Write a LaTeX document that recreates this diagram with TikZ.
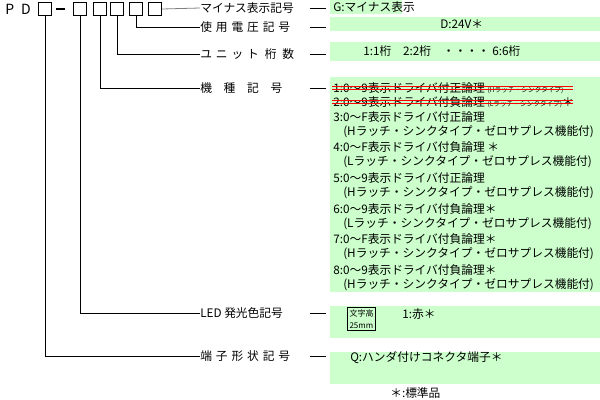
\documentclass[tikz,border=0pt]{standalone}
\usepackage{fontspec}
\setmainfont{Noto Sans CJK JP}
\begin{document}
\begin{tikzpicture}[x=0.75pt,y=-0.75pt,
  lbl/.style={anchor=west,inner sep=0pt,font=\fontsize{8.8}{10}\selectfont},
  sq/.style={draw,line width=0.8pt,minimum width=10pt,minimum height=10pt,inner sep=0pt},
  ln/.style={line width=0.6pt}]
\useasboundingbox (0,0) rectangle (600,400);
\definecolor{pg}{RGB}{204,255,204}
\fill[pg] (330,0) rectangle (402,14);
\fill[pg] (330,17) rectangle (600,31);
\fill[pg] (330,42) rectangle (600,61);
\fill[pg] (330,77) rectangle (600,292);
\fill[pg] (330,306) rectangle (600,338);
\fill[pg] (330,352) rectangle (600,384);
% part number
\node[lbl,font=\fontsize{10.5}{12}\selectfont] (pd) at (5,9) {P\,\,\,D};
\node[sq] (b0) at (45,9) {};
\draw[line width=1.6pt] (56,9) -- (65,9);
\node[sq] (b1) at (80,9) {};
\node[sq] (b2) at (100,9) {};
\node[sq] (b3) at (117,9) {};
\node[sq] (b4) at (136,9) {};
\node[sq] (b5) at (155,9) {};
% labels
\node[lbl] (l1) at (200,8) {マイナス表示記号};
\node[lbl] (l2) at (200,27) {使\,\,用\,\,電\,\,圧\,\,記\,\,号};
\node[lbl] (l3) at (200,54) {ユ\,\,ニ\,\,ッ\,\,ト\,\,\,桁\,\,\,数};
\node[lbl] (l4) at (200,88) {機\quad 種\quad 記\quad 号};
\node[lbl] (l5) at (200,313) {LED 発光色記号};
\node[lbl] (l6) at (200,356) {端\,\,子\,\,形\,\,状\,\,記\,\,号};
\draw[ln,gray] (b5.east) -- (l1.west);
\draw[ln] (b4.south) |- (l2.west);
\draw[ln] (b3.south) |- (l3.west);
\draw[ln] (b2.south) |- (l4.west);
\draw[ln] (b1.south) |- (l5.west);
\draw[ln] (b0.south) |- (l6.west);
\foreach \y in {8,27,54,88,313,356}{\draw[ln] (310,\y) -- (326,\y);}
% values
\node[lbl] (v1) at (333,7) {G:マイナス表示};
\node[lbl] (v2) at (440,24) {D:24V＊};
\node[lbl] (v3) at (363,51) {1:1桁\quad 2:2桁\quad ・・・・\ 6:6桁};
\node[lbl] (m1) at (333,88) {1:0〜9表示ドライバ付正論理 {\tiny (Hラッチ・シンクタイプ)}};
\node[lbl] (m2) at (333,102) {2:0〜9表示ドライバ付負論理 {\tiny (Lラッチ・シンクタイプ)}＊};
\foreach \y in {86.5,89.5,100.5,103.5}{\draw[red,line width=0.7pt] (332,\y) -- (573,\y);}
\node[lbl] at (333,117) {3:0〜F表示ドライバ付正論理};
\node[lbl] at (343,132) {(Hラッチ・シンクタイプ・ゼロサプレス機能付)};
\node[lbl] at (333,147) {4:0〜F表示ドライバ付負論理 ＊};
\node[lbl] at (343,162) {(Lラッチ・シンクタイプ・ゼロサプレス機能付)};
\node[lbl] at (333,178) {5:0〜9表示ドライバ付正論理};
\node[lbl] at (343,193) {(Hラッチ・シンクタイプ・ゼロサプレス機能付)};
\node[lbl] at (333,209) {6:0〜9表示ドライバ付負論理＊};
\node[lbl] at (343,224) {(Lラッチ・シンクタイプ・ゼロサプレス機能付)};
\node[lbl] at (333,239) {7:0〜F表示ドライバ付負論理＊};
\node[lbl] at (343,254) {(Hラッチ・シンクタイプ・ゼロサプレス機能付)};
\node[lbl] at (333,270) {8:0〜9表示ドライバ付負論理＊};
\node[lbl] at (343,285) {(Hラッチ・シンクタイプ・ゼロサプレス機能付)};
\node[draw,line width=0.8pt,inner sep=1.5pt,align=left,anchor=north west,font=\fontsize{6}{9}\selectfont] (fb) at (347,307) {文字高\\25mm};
\node[lbl] (v5) at (402,314) {1:赤＊};
\node[lbl] (v6) at (350,358) {Q:ハンダ付けコネクタ端子＊};
\node[lbl] (std) at (390,393) {＊:標準品};
\end{tikzpicture}
\end{document}
